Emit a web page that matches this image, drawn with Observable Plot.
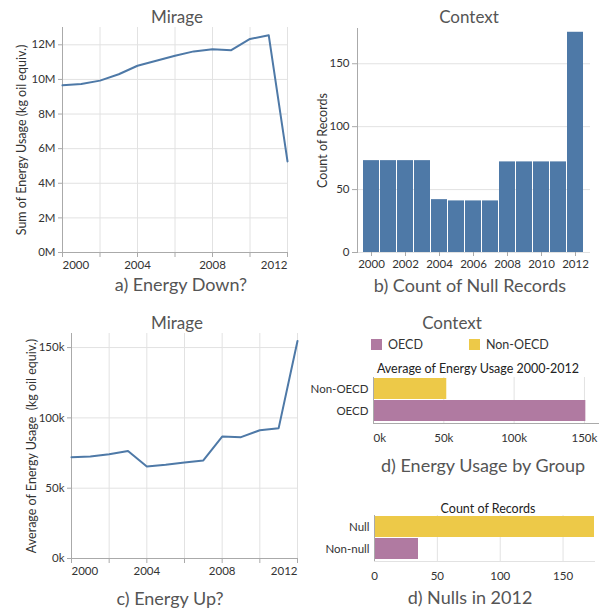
<!DOCTYPE html>
<html>
<head>
<meta charset="utf-8">
<script src="https://cdn.jsdelivr.net/npm/d3@7"></script>
<script src="https://cdn.jsdelivr.net/npm/@observablehq/plot@0.6"></script>
<style>
  html, body { margin: 0; padding: 0; background: #fff; }
  #root { position: relative; width: 602px; height: 610px; font-family: Lato, "Open Sans", sans-serif; color: #333; }
  .title { position: absolute; font-size: 17px; color: #555; transform: translate(-50%, -50%); white-space: nowrap; }
  .caption { position: absolute; font-size: 18px; color: #555; transform: translate(-50%, -50%); white-space: nowrap; }
  .sub { position: absolute; font-size: 12.5px; color: #222; transform: translate(-50%, -50%); white-space: nowrap; }
  .legend { position: absolute; font-size: 12.5px; color: #333; display: flex; align-items: center; white-space: nowrap; }
  .sw { display: inline-block; width: 11px; height: 11px; margin-right: 6px; }
  svg { overflow: visible; }
  svg [aria-label="y-axis label"] { font-size: 12.5px; }
</style>
</head>
<body>
<div id="root"></div>
<script>
// ---------- data ----------
const years = [2000, 2001, 2002, 2003, 2004, 2005, 2006, 2007, 2008, 2009, 2010, 2011, 2012];
const sumEnergy = [9.66e6, 9.74e6, 9.93e6, 10.3e6, 10.79e6, 11.08e6, 11.37e6, 11.62e6, 11.75e6, 11.69e6, 12.34e6, 12.55e6, 5.26e6];
const nullCounts = [73, 73, 73, 73, 42, 41, 41, 41, 72, 72, 72, 72, 175];
const avgEnergy = [72.0e3, 72.5e3, 74.2e3, 76.5e3, 65.4e3, 66.6e3, 68.2e3, 69.7e3, 86.7e3, 86.3e3, 91.2e3, 92.7e3, 154.7e3];
const groups = ["Non-OECD", "OECD"];
const groupAvg = [52100, 151000];
const nullCats = ["Null", "Non-null"];
const nullCats2012 = [175, 35];
const sumTicks = [0, 2e6, 4e6, 6e6, 8e6, 10e6, 12e6];
const countTicks = [0, 50, 100, 150];
const avgTicks = [0, 50000, 100000, 150000];
const evenYears = [2000, 2002, 2004, 2006, 2008, 2010, 2012];

const BLUE = "#4e79a7", PURPLE = "#b07aa1", YELLOW = "#edc948";
const GRID = "#e2e2e2", AXIS = "#aaa";
const FONT = "Lato, 'Open Sans', sans-serif";

const root = document.getElementById("root");
function place(el, left, top) {
  el.style.position = "absolute"; el.style.left = left + "px"; el.style.top = top + "px";
  root.appendChild(el);
}
function txt(cls, s, x, y) {
  const d = document.createElement("div"); d.className = cls; d.textContent = s;
  d.style.left = x + "px"; d.style.top = y + "px"; root.appendChild(d);
}
const svgStyle = {fontFamily: FONT, fontSize: "11.5px", color: "#333", background: "transparent", overflow: "visible"};

const lineData = years.map((y, i) => ({year: y, sum: sumEnergy[i], avg: avgEnergy[i], nulls: nullCounts[i]}));

// ---------- a) ----------
const a = Plot.plot({
  width: 300, height: 300,
  marginLeft: 62, marginRight: 13, marginTop: 27, marginBottom: 48,
  style: svgStyle,
  x: {domain: [2000, 2012]},
  y: {domain: [0, 13e6]},
  marks: [
    Plot.gridY(sumTicks, {stroke: GRID, strokeOpacity: 1}),
    Plot.gridX(evenYears, {stroke: GRID, strokeOpacity: 1}),
    Plot.ruleY([0], {stroke: AXIS}),
    Plot.ruleX([2000], {stroke: AXIS}),
    Plot.axisY(sumTicks, {tickSize: 4, tickPadding: 3, tickFormat: d => d / 1e6 + "M", label: "Sum of Energy Usage (kg oil equiv.)", labelAnchor: "center", labelArrow: "none", labelOffset: 45, stroke: AXIS}),
    Plot.axisX(evenYears, {tickSize: 5, tickFormat: () => "", label: null, stroke: AXIS}),
    Plot.axisX([2000], {tickSize: 0, tickPadding: 8, tickFormat: "d", textAnchor: "start", label: null}),
    Plot.axisX([2004, 2008], {tickSize: 0, tickPadding: 8, tickFormat: "d", label: null}),
    Plot.axisX([2012], {tickSize: 0, tickPadding: 8, tickFormat: "d", textAnchor: "end", label: null}),
    Plot.lineY(lineData, {x: "year", y: "sum", stroke: BLUE, strokeWidth: 2})
  ]
});
place(a, 0, 0);

// ---------- b) ----------
const b = Plot.plot({
  width: 302, height: 300,
  marginLeft: 57, marginRight: 12, marginTop: 28, marginBottom: 48,
  style: svgStyle,
  x: {type: "band", domain: years, padding: 0.05},
  y: {domain: [0, 178]},
  marks: [
    Plot.gridY(countTicks, {stroke: GRID, strokeOpacity: 1}),
    Plot.barY(lineData, {x: "year", y: "nulls", fill: BLUE}),
    Plot.frame({anchor: "left", stroke: AXIS}),
    Plot.axisY(countTicks, {tickSize: 5, tickPadding: 3, label: "Count of Records", labelAnchor: "center", labelArrow: "none", labelOffset: 39, stroke: AXIS}),
    Plot.axisX(evenYears, {tickSize: 4, tickPadding: 3, tickFormat: "d", label: null, stroke: AXIS})
  ]
});
place(b, 300, 0);

// ---------- c) ----------
const c = Plot.plot({
  width: 300, height: 305,
  marginLeft: 71, marginRight: 3, marginTop: 28, marginBottom: 52,
  style: svgStyle,
  x: {domain: [2000, 2012]},
  y: {domain: [0, 160000]},
  marks: [
    Plot.gridY(avgTicks, {stroke: GRID, strokeOpacity: 1}),
    Plot.gridX(evenYears, {stroke: GRID, strokeOpacity: 1}),
    Plot.ruleY([0], {stroke: AXIS}),
    Plot.ruleX([2000], {stroke: AXIS}),
    Plot.axisY(avgTicks, {tickSize: 4, tickPadding: 3, tickFormat: d => d / 1000 + "k", label: "Average of Energy Usage  (kg oil equiv.)", labelAnchor: "center", labelArrow: "none", labelOffset: 44, stroke: AXIS}),
    Plot.axisX(evenYears, {tickSize: 5, tickFormat: () => "", label: null, stroke: AXIS}),
    Plot.axisX([2000], {tickSize: 0, tickPadding: 8, tickFormat: "d", textAnchor: "start", label: null}),
    Plot.axisX([2004, 2008], {tickSize: 0, tickPadding: 8, tickFormat: "d", label: null}),
    Plot.axisX([2012], {tickSize: 0, tickPadding: 8, tickFormat: "d", textAnchor: "end", label: null}),
    Plot.lineY(lineData, {x: "year", y: "avg", stroke: BLUE, strokeWidth: 2})
  ]
});
place(c, 0, 305);

// ---------- d1) ----------
const groupData = groups.map((g, i) => ({group: g, value: groupAvg[i]}));
const d1 = Plot.plot({
  width: 302, height: 80,
  marginLeft: 73, marginRight: 4, marginTop: 7, marginBottom: 27,
  style: svgStyle,
  x: {domain: [0, 160000]},
  y: {type: "band", domain: groups, padding: 0.04},
  color: {domain: ["OECD", "Non-OECD"], range: [PURPLE, YELLOW]},
  marks: [
    Plot.gridX([50000, 100000, 150000], {stroke: GRID, strokeOpacity: 1}),
    Plot.barX(groupData, {x: "value", y: "group", fill: "group"}),
    Plot.frame({anchor: "left", stroke: AXIS}),
    Plot.frame({anchor: "bottom", stroke: AXIS}),
    Plot.axisY({tickSize: 0, tickPadding: 5, label: null}),
    Plot.axisX([0], {tickSize: 0, tickPadding: 10, tickFormat: d => d / 1000 + "k", textAnchor: "start", label: null}),
    Plot.axisX([50000, 100000, 150000], {tickSize: 0, tickPadding: 10, tickFormat: d => d / 1000 + "k", label: null})
  ]
});
place(d1, 300, 370);

// ---------- d2) ----------
const nullData = nullCats.map((g, i) => ({cat: g, value: nullCats2012[i]}));
const d2 = Plot.plot({
  width: 302, height: 80,
  marginLeft: 74, marginRight: 8, marginTop: 5, marginBottom: 29,
  style: svgStyle,
  x: {domain: [0, 175]},
  y: {type: "band", domain: nullCats, padding: 0.04},
  marks: [
    Plot.gridX([50, 100, 150], {stroke: GRID, strokeOpacity: 1}),
    Plot.barX(nullData, {x: "value", y: "cat", fill: d => d.cat === "Null" ? YELLOW : PURPLE}),
    Plot.frame({anchor: "left", stroke: AXIS}),
    Plot.frame({anchor: "bottom", stroke: GRID}),
    Plot.axisY({tickSize: 0, tickPadding: 5, label: null}),
    Plot.axisX([0, 50, 100, 150], {tickSize: 0, tickPadding: 10, label: null})
  ]
});
place(d2, 300, 510);

// ---------- text ----------
txt("title", "Mirage", 177, 16);
txt("title", "Context", 469, 16);
txt("caption", "a) Energy Down?", 181, 284);
txt("caption", "b) Count of Null Records", 470, 285);
txt("title", "Mirage", 177, 322);
txt("title", "Context", 452, 322);
txt("caption", "c) Energy Up?", 170, 598);
txt("sub", "Average of Energy Usage 2000-2012", 478, 368);
txt("caption", "d) Energy Usage by Group", 483, 465);
txt("sub", "Count of Records", 488, 508);
txt("caption", "d) Nulls in 2012", 470, 597);

const leg = document.createElement("div");
leg.className = "legend";
leg.style.left = "371px"; leg.style.top = "337px";
leg.innerHTML = '<span class="sw" style="background:' + PURPLE + '"></span><span style="margin-right:46px">OECD</span>' +
                '<span class="sw" style="background:' + YELLOW + '"></span><span>Non-OECD</span>';
root.appendChild(leg);
</script>
</body>
</html>
